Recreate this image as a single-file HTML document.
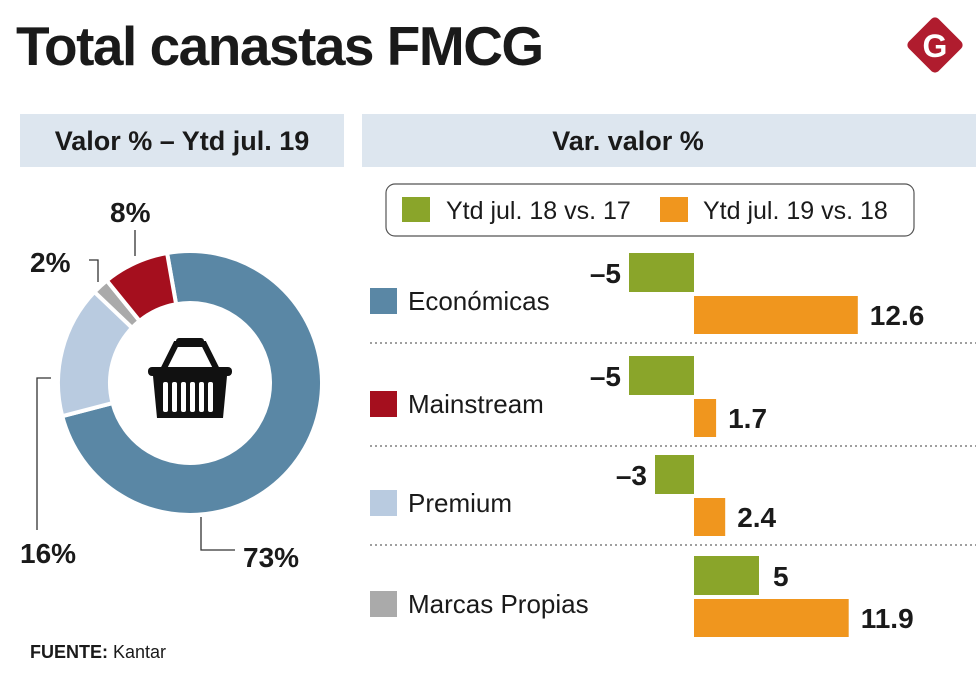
<!DOCTYPE html>
<html><head><meta charset="utf-8"><style>
body{margin:0;background:#fff;width:980px;height:679px;overflow:hidden;font-family:"Liberation Sans",sans-serif;}
svg text{font-family:"Liberation Sans",sans-serif;}
</style></head><body>
<svg id="c" width="980" height="679">
<text x="16" y="65" font-size="55" font-weight="bold" fill="#1a1a1a" letter-spacing="-1.5">Total canastas FMCG</text>
<g>
<rect x="914" y="24" width="42" height="42" rx="5" fill="#b01c2e" transform="rotate(45 935 45)"/>
<text x="935" y="57" font-size="32" font-weight="bold" fill="#fff" text-anchor="middle" font-family="Liberation Serif">G</text>
</g>
<rect x="20" y="114" width="324" height="53" fill="#dde6ef"/>
<text x="182" y="150" font-size="27" font-weight="bold" fill="#1a1a1a" text-anchor="middle">Valor % – Ytd jul. 19</text>
<rect x="362" y="114" width="614" height="53" fill="#dde6ef"/>
<text x="628" y="150" font-size="27" font-weight="bold" fill="#1a1a1a" text-anchor="middle">Var. valor %</text>
<g>
<rect x="386" y="184" width="528" height="52" rx="9" fill="#fff" stroke="#555" stroke-width="1.2"/>
<rect x="402" y="197" width="28" height="25" fill="#8aa52a"/>
<text x="446" y="219" font-size="25" fill="#1a1a1a">Ytd jul. 18 vs. 17</text>
<rect x="660" y="197" width="28" height="25" fill="#f0961e"/>
<text x="703" y="219" font-size="25" fill="#1a1a1a">Ytd jul. 19 vs. 18</text>
</g>
<g id="donut"></g>
<g fill="#111">
<rect x="176" y="338" width="28" height="8" rx="3"/>
<path d="M163 370 L176 344 L204 344 L217 370" fill="none" stroke="#111" stroke-width="6"/>
<rect x="148" y="367" width="84" height="9" rx="4"/>
<path d="M153 376 H227 L223 418 H157 Z"/>
</g>
<g fill="#fff"><rect x="163" y="382" width="5" height="30" rx="2"/><rect x="172" y="382" width="5" height="30" rx="2"/><rect x="181" y="382" width="5" height="30" rx="2"/><rect x="190" y="382" width="5" height="30" rx="2"/><rect x="199" y="382" width="5" height="30" rx="2"/><rect x="208" y="382" width="5" height="30" rx="2"/></g>
<g stroke="#333" stroke-width="1.3" fill="none">
<polyline points="135,230 135,256"/>
<polyline points="89,260 98,260 98,282"/>
<polyline points="51,378 37,378 37,530"/>
<polyline points="201,517 201,550 235,550"/>
</g>
<g font-size="28" font-weight="bold" fill="#1a1a1a">
<text x="110" y="222">8%</text>
<text x="30" y="272">2%</text>
<text x="20" y="563">16%</text>
<text x="243" y="567">73%</text>
</g>
<g id="bars"></g>
<text x="30" y="658" font-size="18" fill="#1a1a1a"><tspan font-weight="bold">FUENTE:</tspan> Kantar</text>
</svg>
<script>
const NS="http://www.w3.org/2000/svg";
const shareCats=["Económicas","Premium","Marcas Propias","Mainstream"];
const shareVals=[73,16,2,8];
const shareColors=["#5a87a5","#b9cbe0","#aaaaaa","#a50f1e"];
const barCats=["Económicas","Mainstream","Premium","Marcas Propias"];
const catColors=["#5a87a5","#a50f1e","#b9cbe0","#aaaaaa"];
const s18=[-5,-5,-3,5];
const s19=[12.6,1.7,2.4,11.9];
const lbl18=["–5","–5","–3","5"];
const lbl19=["12.6","1.7","2.4","11.9"];
function mk(t,a,p){const e=document.createElementNS(NS,t);for(const k in a)e.setAttribute(k,a[k]);p.appendChild(e);return e;}
const dg=document.getElementById('donut');
const cx=190,cy=383,R=132,r=80,start=-10;
const total=shareVals.reduce((a,b)=>a+b,0);
function pt(ang,rad){const a=(ang-90)*Math.PI/180;return [cx+rad*Math.cos(a),cy+rad*Math.sin(a)];}
let acc=start;
shareVals.forEach((v,i)=>{
  const a0=acc,a1=acc+v/total*360;acc=a1;
  const lg=(a1-a0)>180?1:0;
  const [x0,y0]=pt(a0,R),[x1,y1]=pt(a1,R),[x2,y2]=pt(a1,r),[x3,y3]=pt(a0,r);
  const p=mk('path',{d:`M${x0} ${y0} A${R} ${R} 0 ${lg} 1 ${x1} ${y1} L${x2} ${y2} A${r} ${r} 0 ${lg} 0 ${x3} ${y3}Z`,fill:shareColors[i],stroke:'#fff','stroke-width':4},dg);
  
  
});
const bg=document.getElementById('bars');
const x0=694,unit=13;
function xs(v){return x0+v*unit;}
const rowTop=[253,356,455,556];
barCats.forEach((c,i)=>{
  const y=rowTop[i];
  const sw=mk('rect',{x:370,y:y+35,width:27,height:26,fill:catColors[i]},bg);
  
  
  const t=mk('text',{x:408,y:y+57,'font-size':26,fill:'#1a1a1a'},bg);t.textContent=c;
  
  
  const v1=s18[i],v2=s19[i];
  const b1=mk('rect',{x:Math.min(xs(0),xs(v1)),y:y,width:Math.abs(xs(v1)-xs(0)),height:39,fill:'#8aa52a'},bg);
  
  
  const b2=mk('rect',{x:Math.min(xs(0),xs(v2)),y:y+43,width:Math.abs(xs(v2)-xs(0)),height:38,fill:'#f0961e'},bg);
  
  
  const l1=mk('text',{x:v1<0?xs(v1)-8:xs(v1)+14,y:y+30,'font-size':28,'font-weight':'bold',fill:'#1a1a1a','text-anchor':v1<0?'end':'start'},bg);l1.textContent=lbl18[i];
  
  
  const l2=mk('text',{x:xs(v2)+12,y:y+72,'font-size':28,'font-weight':'bold',fill:'#1a1a1a'},bg);l2.textContent=lbl19[i];
  
  
  if(i<3){const d=mk('line',{x1:370,x2:976,y1:y+90,y2:y+90,stroke:'#666','stroke-width':1.2,'stroke-dasharray':'2 3'},bg);
  
  }
});
</script>
</body></html>
